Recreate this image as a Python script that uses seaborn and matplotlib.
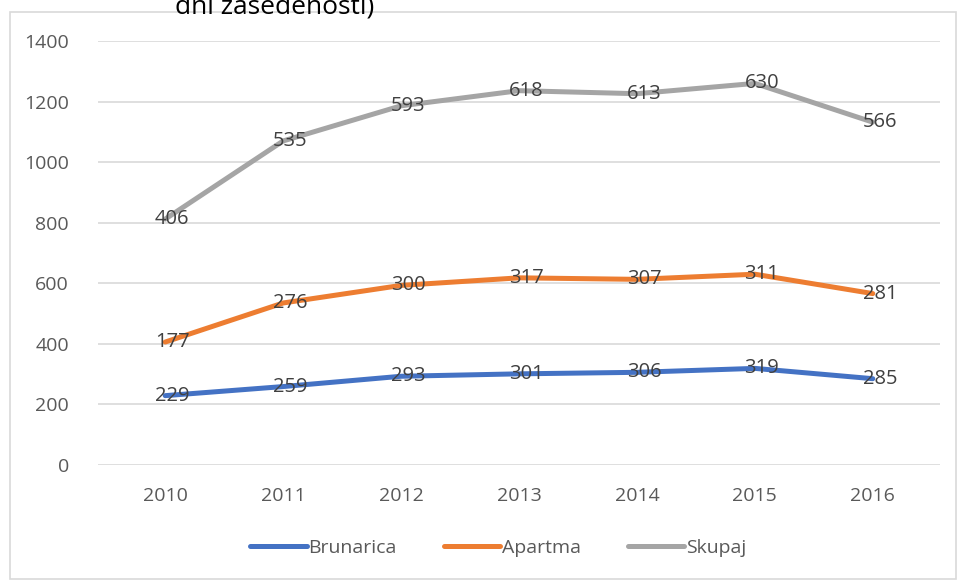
import matplotlib.pyplot as plt
import matplotlib.patches as mpatches
import numpy as np
import pandas as pd
import seaborn as sns

years = ["2010", "2011", "2012", "2013", "2014", "2015", "2016"]
series_names = ["Brunarica", "Apartma", "Skupaj"]
brunarica = [229, 259, 293, 301, 306, 319, 285]
apartma = [177, 276, 300, 317, 307, 311, 281]
skupaj = [406, 535, 593, 618, 613, 630, 566]
colors = ["#4472C4", "#ED7D31", "#A5A5A5"]

# Excel "stacked line": each series is drawn on top of the previous ones
values = np.array([brunarica, apartma, skupaj])
stacked = np.cumsum(values, axis=0)

rows = []
for name, own, pos in zip(series_names, values, stacked):
    for i, yr in enumerate(years):
        rows.append({"year": i, "label": yr, "series": name, "value": own[i], "pos": pos[i]})
df = pd.DataFrame(rows)

sns.set_style("white")
plt.rcParams["font.family"] = ["Open Sans", "DejaVu Sans"]

fig = plt.figure(figsize=(9.58, 5.81), dpi=100)
ax = fig.add_axes([98 / 958, 1 - 465 / 581, 842 / 958, 424 / 581])

sns.lineplot(data=df, x="year", y="pos", hue="series", hue_order=series_names,
             palette=colors, linewidth=3.6, ax=ax, legend=True)

for _, r in df.iterrows():
    ax.text(r["year"] + 0.06, r["pos"], str(r["value"]), ha="center", va="center",
            fontsize=14.5, color="#404040", zorder=5)

ax.set_xlim(-0.57, 6.57)
ax.set_ylim(0, 1400)
ax.set_yticks(range(0, 1401, 200))
ax.set_xticks(range(len(years)))
ax.set_xticklabels(years)
ax.set_xlabel("")
ax.set_ylabel("")
ax.grid(axis="y", color="#d9d9d9", linewidth=1.2)
ax.grid(axis="x", visible=False)
for s in ax.spines.values():
    s.set_visible(False)
ax.tick_params(axis="both", length=0, labelsize=14, labelcolor="#595959")
ax.tick_params(axis="x", pad=16)
ax.tick_params(axis="y", pad=21)

handles, labels = ax.get_legend_handles_labels()
ax.legend(handles, labels, loc="center", bbox_to_anchor=(0.52, 1 - 548 / 581),
          bbox_transform=fig.transFigure, ncol=3, frameon=False, fontsize=14,
          handlelength=2.9, handletextpad=0.1, columnspacing=2.4, labelcolor="#595959")

# chart area border and clipped title from the original layout
fig.patches.append(mpatches.Rectangle((10 / 958, 2 / 581), 946 / 958, 567 / 581,
                                      transform=fig.transFigure, fill=False,
                                      edgecolor="#d9d9d9", linewidth=1.2))
fig.text(275 / 958, 1 - 7 / 581, "dni zasedenosti)", ha="center", va="center",
         fontsize=19, color="#000000")

fig.savefig("out.png", dpi=100)
